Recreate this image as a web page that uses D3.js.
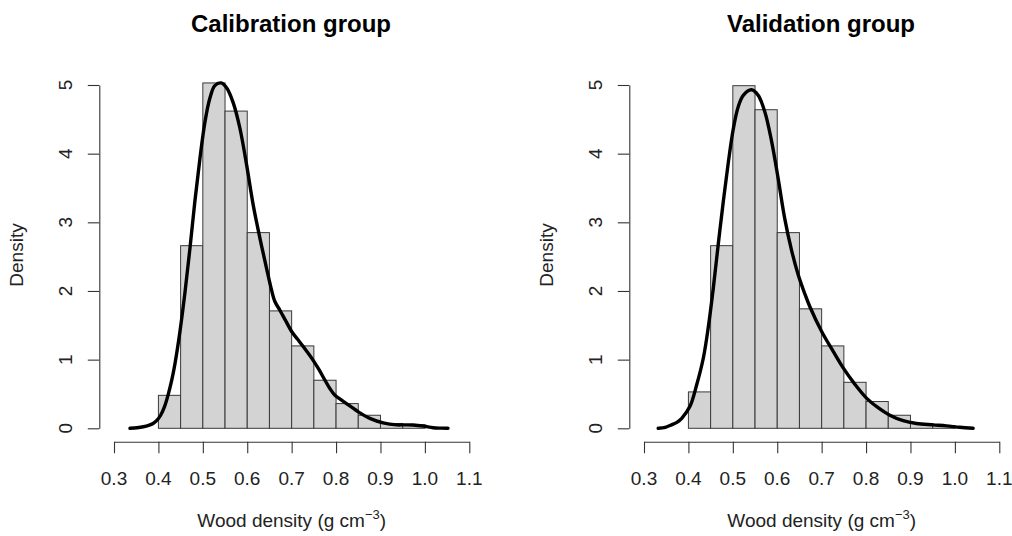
<!DOCTYPE html>
<html>
<head>
<meta charset="utf-8">
<script src="https://cdn.jsdelivr.net/npm/d3@7"></script>
<style>
  html, body { margin: 0; padding: 0; background: #fff; }
  svg { display: block; font-family: "Liberation Sans", Arial, sans-serif; }
</style>
</head>
<body>
<svg id="chart" width="1012" height="536"></svg>
<script>
// Histogram bins (left edges, width 0.05) and densities per group
const binEdges = [0.40, 0.45, 0.50, 0.55, 0.60, 0.65, 0.70, 0.75, 0.80, 0.85, 0.90, 0.95, 1.00];
const calibrationDensity = [0.48, 2.66, 5.03, 4.62, 2.85, 1.71, 1.20, 0.70, 0.36, 0.19, 0.07, 0.05];
const validationDensity  = [0.53, 2.66, 4.99, 4.64, 2.85, 1.74, 1.20, 0.67, 0.39, 0.19, 0.07, 0.04];

// Kernel density estimates: [wood density, density]
const calibrationKde = [
  [0.336, 0], [0.352, 0.008], [0.366, 0.022], [0.378, 0.042], [0.388, 0.07],
  [0.397, 0.12], [0.405, 0.19], [0.414, 0.32], [0.422, 0.49], [0.430, 0.70],
  [0.437, 0.93], [0.4485, 1.41], [0.460, 1.99], [0.471, 2.62],
  [0.482, 3.30], [0.4935, 3.93], [0.505, 4.47], [0.516, 4.81], [0.527, 4.99],
  [0.541, 5.03], [0.5535, 4.96], [0.5685, 4.74], [0.5835, 4.37], [0.5985, 3.84],
  [0.6135, 3.25], [0.6285, 2.77], [0.6435, 2.33], [0.653, 2.06], [0.662, 1.85],
  [0.6735, 1.72], [0.687, 1.56], [0.700, 1.41], [0.713, 1.30], [0.726, 1.19],
  [0.7485, 0.99], [0.762, 0.85], [0.775, 0.70], [0.786, 0.58], [0.797, 0.485],
  [0.810, 0.42], [0.8235, 0.36], [0.850, 0.24], [0.876, 0.145], [0.906, 0.08],
  [0.936, 0.05], [0.955, 0.05], [0.9735, 0.048], [0.996, 0.033], [1.0185, 0.008],
  [1.035, 0.002], [1.052, 0]
];
const validationKde = [
  [0.332, 0], [0.348, 0.015], [0.362, 0.05], [0.375, 0.09], [0.385, 0.145],
  [0.4035, 0.32], [0.4185, 0.63], [0.4335, 1.02], [0.4445, 1.46], [0.456, 2.04],
  [0.467, 2.67], [0.4785, 3.30], [0.490, 3.88], [0.501, 4.36], [0.512, 4.68],
  [0.5235, 4.85], [0.542, 4.93], [0.557, 4.85], [0.572, 4.61], [0.587, 4.19],
  [0.602, 3.64], [0.617, 3.05], [0.632, 2.60], [0.647, 2.24], [0.662, 1.96],
  [0.6735, 1.77], [0.700, 1.41], [0.726, 1.12], [0.7485, 0.88], [0.775, 0.64],
  [0.801, 0.44], [0.827, 0.30], [0.8535, 0.19], [0.8835, 0.11], [0.9135, 0.07],
  [0.951, 0.05], [0.981, 0.035], [1.011, 0.015], [1.041, 0]
];

// Axis ticks
const xTicks = [0.3, 0.4, 0.5, 0.6, 0.7, 0.8, 0.9, 1.0, 1.1];
const xTickLabels = ["0.3", "0.4", "0.5", "0.6", "0.7", "0.8", "0.9", "1.0", "1.1"];
const yTicks = [0, 1, 2, 3, 4, 5];

const panelTitles = ["Calibration group", "Validation group"];
const panelOffsets = [0, 530];

const svg = d3.select("#chart");

const x = d3.scaleLinear().domain([0.3, 1.1]).range([114, 469.3]);
const y = d3.scaleLinear().domain([0, 5]).range([428.3, 85]);

const axisColor = "#333";

function drawPanel(offset, title, dens, kde) {
  const g = svg.append("g").attr("transform", `translate(${offset},0)`);

  // histogram bars
  const bins = dens.map((d, i) => ({ x0: binEdges[i], x1: binEdges[i + 1], d }));
  g.append("g").selectAll("rect").data(bins).join("rect")
    .attr("x", b => x(b.x0))
    .attr("y", b => y(b.d))
    .attr("width", b => x(b.x1) - x(b.x0))
    .attr("height", b => y(0) - y(b.d))
    .attr("fill", "#d3d3d3")
    .attr("stroke", "#3a3a3a")
    .attr("stroke-width", 1);

  // density curve
  const line = d3.line()
    .x(p => x(p[0]))
    .y(p => y(p[1]))
    .curve(d3.curveCatmullRom.alpha(0.5));
  g.append("path")
    .datum(kde)
    .attr("d", line)
    .attr("fill", "none")
    .attr("stroke", "#000")
    .attr("stroke-width", 3.4)
    .attr("stroke-linejoin", "round")
    .attr("stroke-linecap", "round");

  // x axis
  const xAxis = d3.axisBottom(x)
    .tickValues(xTicks)
    .tickSize(11.5)
    .tickSizeOuter(0)
    .tickFormat("");
  const gx = g.append("g").attr("transform", "translate(0,441.7)").call(xAxis);
  gx.selectAll("path, line").attr("stroke", axisColor).attr("stroke-width", 1.1);
  g.append("g").selectAll("text").data(xTicks).join("text")
    .attr("x", v => x(v))
    .attr("y", 485)
    .attr("text-anchor", "middle")
    .attr("font-size", 19)
    .attr("fill", "#222")
    .text((v, i) => xTickLabels[i]);

  // y axis
  const yAxis = d3.axisLeft(y)
    .tickValues(yTicks)
    .tickSize(11.5)
    .tickSizeOuter(0)
    .tickFormat("");
  const gy = g.append("g").attr("transform", "translate(99.3,0)").call(yAxis);
  gy.selectAll("path, line").attr("stroke", axisColor).attr("stroke-width", 1.1);
  g.append("g").selectAll("text").data(yTicks).join("text")
    .attr("transform", v => `translate(71.5,${y(v)}) rotate(-90)`)
    .attr("text-anchor", "middle")
    .attr("font-size", 19)
    .attr("fill", "#222")
    .text(v => String(v));

  // axis titles
  g.append("text")
    .attr("transform", "translate(23,255) rotate(-90)")
    .attr("text-anchor", "middle")
    .attr("font-size", 19)
    .attr("fill", "#222")
    .text("Density");

  const xl = g.append("text")
    .attr("x", 291.7)
    .attr("y", 527)
    .attr("text-anchor", "middle")
    .attr("font-size", 19)
    .attr("fill", "#222");
  xl.append("tspan").text("Wood density (g cm");
  xl.append("tspan").attr("font-size", 13).attr("dy", -8).text("\u22123");
  xl.append("tspan").attr("dy", 8).text(")");

  // panel title
  g.append("text")
    .attr("x", 291)
    .attr("y", 31.5)
    .attr("text-anchor", "middle")
    .attr("font-size", 24)
    .attr("font-weight", "bold")
    .attr("fill", "#000")
    .text(title);
}

drawPanel(panelOffsets[0], panelTitles[0], calibrationDensity, calibrationKde);
drawPanel(panelOffsets[1], panelTitles[1], validationDensity, validationKde);
</script>
</body>
</html>
